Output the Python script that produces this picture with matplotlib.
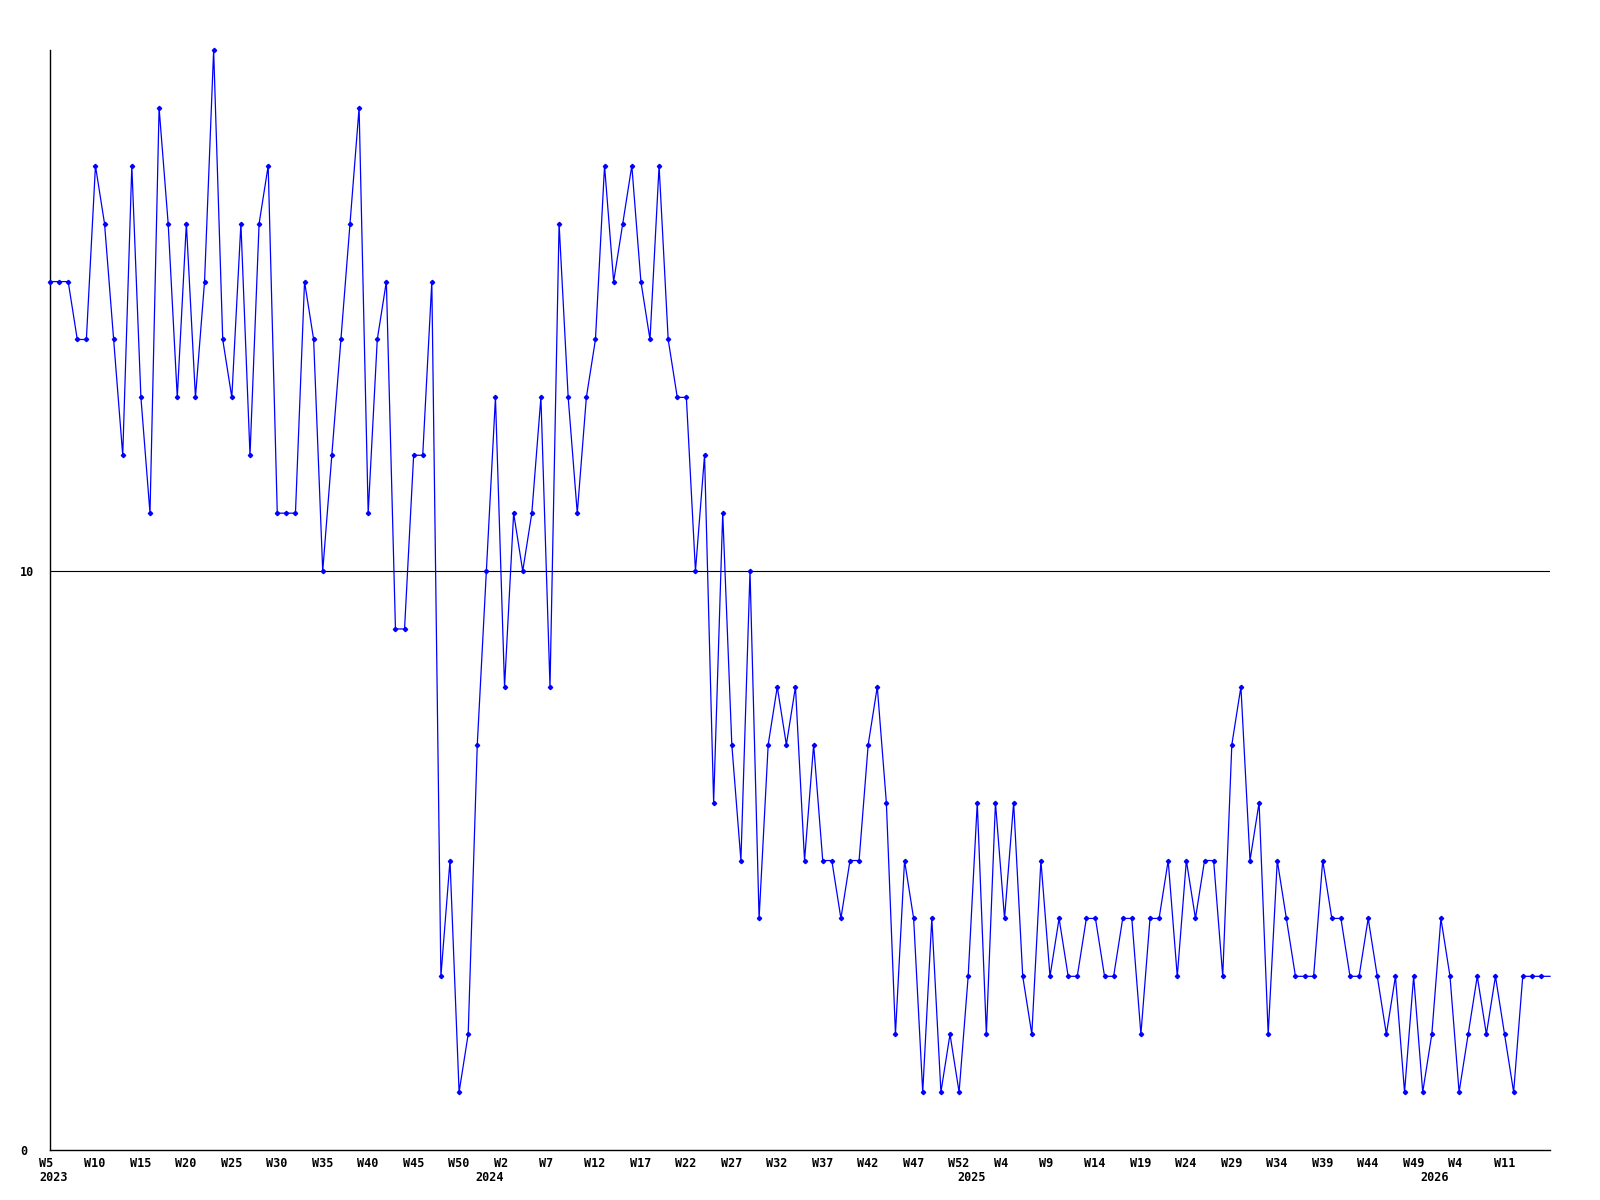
import matplotlib
matplotlib.use("Agg")
import matplotlib.pyplot as plt
import matplotlib.transforms as mtransforms

# weekly values (one per point, left to right)
values = [
    15, 15, 15, 14, 14, 17, 16, 14, 12, 17, 13, 11, 18, 16, 13, 16, 13, 15, 19, 14, 13, 16,
    12, 16, 17, 11, 11, 11, 15, 14, 10, 12, 14, 16, 18, 11, 14, 15, 9, 9, 12, 12, 15,
    3, 5, 1, 2, 7, 10, 13, 8, 11, 10, 11, 13, 8, 16, 13, 11, 13, 14, 17, 15,
    16, 17, 15, 14, 17, 14, 13, 13, 10, 12, 6, 11, 7, 5, 10, 4, 7, 8, 7, 8, 5,
    7, 5, 5, 4, 5, 5, 7, 8, 6, 2, 5, 4, 1, 4, 1, 2, 1, 3, 6, 2, 6,
    4, 6, 3, 2, 5, 3, 4, 3, 3, 4, 4, 3, 3, 4, 4, 2, 4, 4, 5, 3, 5,
    4, 5, 5, 3, 7, 8, 5, 6, 2, 5, 4, 3, 3, 3, 5, 4, 4, 3, 3, 4, 3,
    2, 3, 1, 3, 1, 2, 4, 3, 1, 2, 3, 2, 3, 2, 1, 3, 3, 3,
    3,
]

week_labels = [
    "W5", "W10", "W15", "W20", "W25", "W30", "W35", "W40", "W45", "W50",
    "W2", "W7", "W12", "W17", "W22", "W27", "W32", "W37", "W42", "W47", "W52",
    "W4", "W9", "W14", "W19", "W24", "W29", "W34", "W39", "W44", "W49",
    "W4", "W11",
]
label_step = 5

years = ["2023", "2024", "2025", "2026"]
year_index = [0, 48, 101, 152]

y_ticks = [0, 10]

W, H = 1600, 1200
fig = plt.figure(figsize=(W / 100, H / 100), dpi=100)
ax = fig.add_axes([50 / W, 50 / H, 1500 / W, 1100 / H])

x = list(range(len(values)))
ax.plot(x, values, color="#0000ff", lw=0.9, marker="D", ms=2.2,
        markevery=slice(0, len(values) - 1), clip_on=False, zorder=3)

ax.set_xlim(0, len(values) - 1)
ax.set_ylim(0, 19)

for s in ["top", "right"]:
    ax.spines[s].set_visible(False)
for s in ["left", "bottom"]:
    ax.spines[s].set_linewidth(1.0)
    ax.spines[s].set_color("black")

ax.axhline(10, color="black", lw=0.8, zorder=1)

font = dict(family="DejaVu Sans Mono", weight="bold", size=8.5)

ax.set_yticks(y_ticks)
ax.set_yticklabels([str(v) for v in y_ticks], ha="left", **font)
ax.tick_params(axis="y", length=0, pad=30 * 0.72)

ticks = [i * label_step for i in range(len(week_labels))]
ax.set_xticks(ticks)
ax.set_xticklabels(week_labels, ha="left", **font)
ax.tick_params(axis="x", length=0, pad=5)
offset = mtransforms.ScaledTranslation(-11 / 100, 0, fig.dpi_scale_trans)
for lbl in ax.get_xticklabels():
    lbl.set_transform(lbl.get_transform() + offset)

trans = mtransforms.blended_transform_factory(ax.transData, ax.transAxes)
for yr, xi in zip(years, year_index):
    ax.text(xi, 0, yr, transform=trans + mtransforms.ScaledTranslation(-11 / 100, -21 / 100, fig.dpi_scale_trans),
            ha="left", va="top", **font)

fig.savefig("out.png", dpi=100)
